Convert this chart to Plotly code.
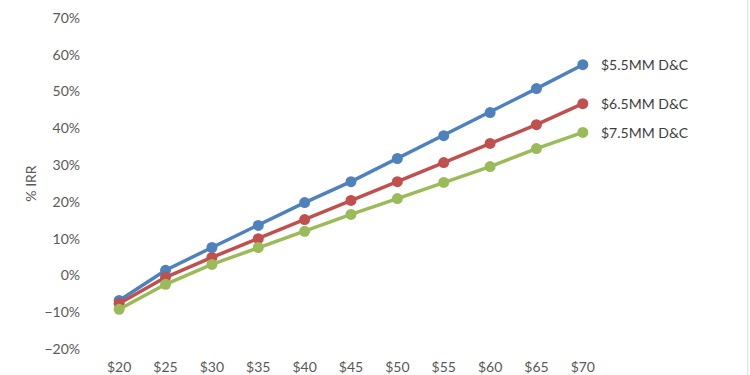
import plotly.graph_objects as go

categories = ["$20", "$25", "$30", "$35", "$40", "$45", "$50", "$55", "$60", "$65", "$70"]
irr_55 = [-0.068, 0.014, 0.076, 0.136, 0.198, 0.255, 0.318, 0.380, 0.443, 0.508, 0.573]
irr_65 = [-0.076, -0.005, 0.049, 0.100, 0.152, 0.204, 0.255, 0.307, 0.359, 0.410, 0.467]
irr_75 = [-0.092, -0.024, 0.030, 0.076, 0.120, 0.166, 0.209, 0.253, 0.296, 0.345, 0.389]
series_names = ["$5.5MM D&C", "$6.5MM D&C", "$7.5MM D&C"]
colors = ["#4F81BD", "#C0504D", "#9BBB59"]
y_ticks = [-0.2, -0.1, 0, 0.1, 0.2, 0.3, 0.4, 0.5, 0.6, 0.7]

FONT = "Lato"
fig = go.Figure()
for name, vals, col in zip(series_names, [irr_55, irr_65, irr_75], colors):
    fig.add_trace(go.Scatter(
        x=categories, y=vals, name=name, mode="lines+markers",
        line=dict(color=col, width=3.5),
        marker=dict(color=col, size=11),
    ))
    fig.add_annotation(x=categories[-1], y=vals[-1], text=name, showarrow=False,
                       xanchor="left", yanchor="middle", xshift=16,
                       font=dict(family=FONT, size=14, color="#404040"))

fig.update_layout(
    width=750, height=375,
    margin=dict(l=96, r=144, t=18, b=26, autoexpand=False),
    paper_bgcolor="white", plot_bgcolor="white",
    showlegend=False,
    font=dict(family=FONT, size=14, color="#595959"),
)
fig.update_xaxes(type="category", range=[-0.5, 10.5], showgrid=False, zeroline=False,
                 showline=False, ticks="", automargin=False, ticklabelstandoff=8,
                 tickfont=dict(size=14, color="#595959"))
fig.update_yaxes(range=[-0.2, 0.7], tickvals=y_ticks, tickformat=".0%", showgrid=False,
                 zeroline=False, showline=False, ticks="", ticklabelstandoff=15, automargin=False,
                 title=dict(text="% IRR", font=dict(size=14, color="#595959"), standoff=4),
                 tickfont=dict(size=14, color="#595959"))
fig.add_shape(type="line", xref="paper", yref="paper", x0=1.278, x1=1.278, y0=-0.08, y1=1.06,
              line=dict(color="#D9D9D9", width=1))

fig.write_html("out.html", config={"displayModeBar": False},
               post_script="document.body.style.margin='0';document.body.style.overflow='hidden';")
